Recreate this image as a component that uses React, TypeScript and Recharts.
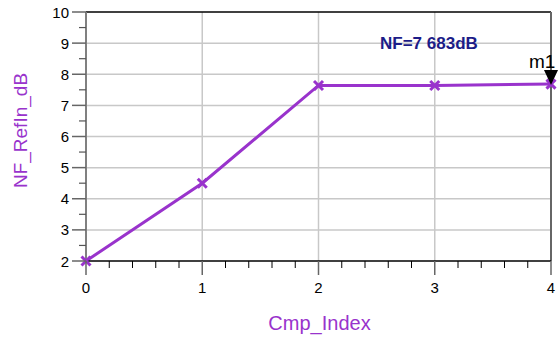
import React from 'react';
import { LineChart, Line, XAxis, YAxis, ReferenceLine, ReferenceDot } from 'recharts';

const cmpIndex = [0, 1, 2, 3, 4];
const nfRefInDb = [2.0, 4.5, 7.64, 7.64, 7.683];
const xTicks = [0, 0.2, 0.4, 0.6, 0.8, 1, 1.2, 1.4, 1.6, 1.8, 2, 2.2, 2.4, 2.6, 2.8, 3, 3.2, 3.4, 3.6, 3.8, 4];
const yTicks = [2, 2.5, 3, 3.5, 4, 4.5, 5, 5.5, 6, 6.5, 7, 7.5, 8, 8.5, 9, 9.5, 10];
const xGrid = [1, 2, 3];
const yGrid = [3, 4, 5, 6, 7, 8, 9];
const markerName = 'm1';
const markerX = 4;
const markerY = 7.683;
const markerText = 'NF=7 683dB';
const markerTextX = 2.95;
const markerTextY = 8.82;

const data = cmpIndex.map((x, i) => ({ x, y: nfRefInDb[i] }));

const FONT = 'Liberation Sans, Arial, Helvetica, sans-serif';
const PURPLE = '#9933cc';

const isMajor = (v: number) => Math.abs(v - Math.round(v)) < 1e-6;

const XTick = (props: any) => {
  const { x, y, payload } = props;
  const v = payload.value;
  if (isMajor(v)) {
    return (
      <g>
        <line x1={x} x2={x} y1={y} y2={y + 14} stroke="#666" strokeWidth={1.5} />
        <text x={x} y={y + 32} textAnchor="middle" fontSize={15} fontFamily={FONT} fill="#000">
          {Math.round(v)}
        </text>
      </g>
    );
  }
  return <line x1={x} x2={x} y1={y} y2={y + 7} stroke="#000" strokeWidth={1} />;
};

const YTick = (props: any) => {
  const { x, y, payload } = props;
  const v = payload.value;
  if (isMajor(v)) {
    return (
      <g>
        <line x1={x - 14} x2={x} y1={y} y2={y} stroke="#666" strokeWidth={1.5} />
        <text x={x - 17} y={y + 5.5} textAnchor="end" fontSize={15} fontFamily={FONT} fill="#000">
          {Math.round(v)}
        </text>
      </g>
    );
  }
  return <line x1={x - 7} x2={x} y1={y} y2={y} stroke="#555" strokeWidth={1.2} />;
};

const CrossDot = (props: any) => {
  const { cx, cy, index } = props;
  if (cx == null || cy == null) return null;
  const s = 4.5;
  return (
    <g key={`d${index}`}>
      <line x1={cx - s} y1={cy - s} x2={cx + s} y2={cy + s} stroke={PURPLE} strokeWidth={3} />
      <line x1={cx - s} y1={cy + s} x2={cx + s} y2={cy - s} stroke={PURPLE} strokeWidth={3} />
    </g>
  );
};

const MarkerShape = (props: any) => {
  const { cx, cy } = props;
  return (
    <g>
      <text x={cx - 22} y={cy - 16} fontSize={19} fontFamily={FONT} fill="#000">
        {markerName}
      </text>
      <polygon points={`${cx},${cy + 1} ${cx - 7},${cy - 14} ${cx + 7},${cy - 14}`} fill="#000" />
    </g>
  );
};

const AnnotShape = (props: any) => {
  const { cx, cy } = props;
  return (
    <text x={cx} y={cy} textAnchor="middle" fontSize={17} fontWeight="bold" fontFamily={FONT} fill="#1c1c88">
      {markerText}
    </text>
  );
};

export default function App() {
  return (
    <div style={{ position: 'absolute', left: 0, top: 0, width: 559, height: 340, background: '#fff' }}>
      <LineChart width={559} height={340} data={data} margin={{ top: 12, right: 8, bottom: 0, left: 0 }}>
        <XAxis
          type="number"
          dataKey="x"
          domain={[0, 4]}
          ticks={xTicks}
          interval={0}
          tickSize={0}
          tickMargin={0}
          tick={<XTick />}
          tickLine={false}
          axisLine={{ stroke: '#000', strokeWidth: 1.5 }}
          height={79}
          label={{
            content: (p: any) => {
              const vb = p.viewBox;
              return (
                <text x={vb.x + vb.width / 2 + 1} y={vb.y + 69} textAnchor="middle" fontSize={20} fontFamily={FONT} fill={PURPLE}>
                  Cmp_Index
                </text>
              );
            },
          }}
        />
        <YAxis
          type="number"
          domain={[2, 10]}
          ticks={yTicks}
          interval={0}
          tickSize={0}
          tickMargin={0}
          tick={<YTick />}
          tickLine={false}
          axisLine={{ stroke: '#808080', strokeWidth: 2 }}
          width={86}
          label={{
            content: (p: any) => {
              const vb = p.viewBox;
              const cx = vb.x + 20;
              const cy = vb.y + vb.height / 2 - 6;
              return (
                <text
                  x={cx}
                  y={cy}
                  transform={`rotate(-90 ${cx} ${cy})`}
                  textAnchor="middle"
                  dominantBaseline="central"
                  fontSize={19}
                  fontFamily={FONT}
                  fill={PURPLE}
                >
                  NF_RefIn_dB
                </text>
              );
            },
          }}
        />
        {yGrid.map((v) => (
          <ReferenceLine key={`gy${v}`} y={v} stroke="#c8c8c8" strokeWidth={1.5} />
        ))}
        {xGrid.map((v) => (
          <ReferenceLine key={`gx${v}`} x={v} stroke="#c8c8c8" strokeWidth={1.5} />
        ))}
        <ReferenceLine y={10} stroke="#000" strokeWidth={1.5} />
        <ReferenceLine x={4} stroke="#666" strokeWidth={2} />
        <Line
          type="linear"
          dataKey="y"
          stroke={PURPLE}
          strokeWidth={3}
          dot={<CrossDot />}
          activeDot={false}
          isAnimationActive={false}
        />
        <ReferenceDot x={markerX} y={markerY} r={0} shape={<MarkerShape />} />
        <ReferenceDot x={markerTextX} y={markerTextY} r={0} shape={<AnnotShape />} />
      </LineChart>
    </div>
  );
}
